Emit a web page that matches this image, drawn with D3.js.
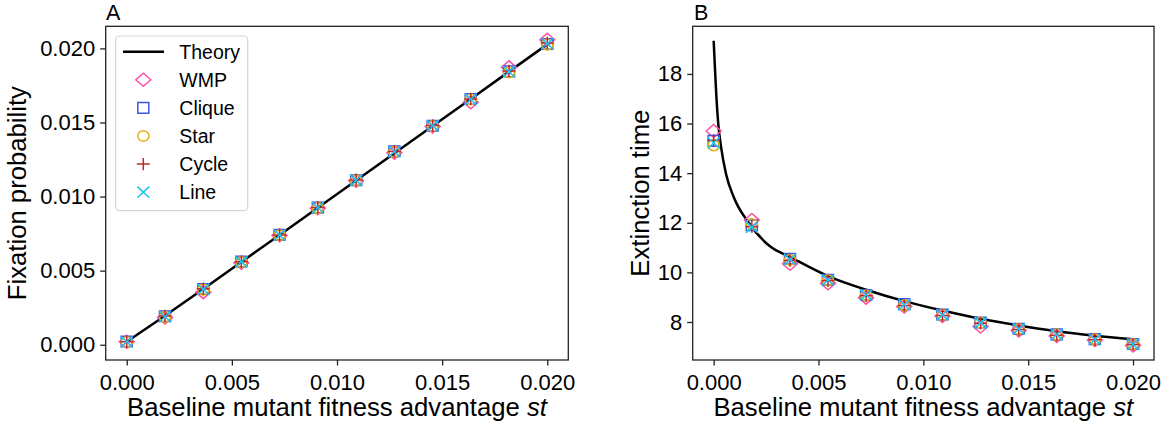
<!DOCTYPE html>
<html><head><meta charset="utf-8">
<script src="https://cdn.jsdelivr.net/npm/d3@7"></script>
<style>
html,body{margin:0;padding:0;background:#fff;}
svg{display:block;font-family:"Liberation Sans",Arial,sans-serif;}
</style></head>
<body>
<svg id="c" width="1172" height="427"></svg>
<script>
// ---- data ----
const st = [0, 0.00182, 0.00364, 0.00545, 0.00727, 0.00909, 0.01091, 0.01273, 0.01455, 0.01636, 0.01818, 0.02];
const xTicks = [0, 0.005, 0.01, 0.015, 0.02];
const fixTicks = [0, 0.005, 0.01, 0.015, 0.02];
const extTicks = [8, 10, 12, 14, 16, 18];
const seriesNames = ["WMP", "Clique", "Star", "Cycle", "Line"];

// Panel A: fixation probability
const fixTheory = [0.0002, 0.00196, 0.00376, 0.00558, 0.00741, 0.00924, 0.01108, 0.01292, 0.01476, 0.01659, 0.01843, 0.02027];
const fixWMP    = [0.0002, 0.00183, 0.00355, 0.00553, 0.00738, 0.00921, 0.01106, 0.01296, 0.01473, 0.01636, 0.01872, 0.02058];
const fixClique = [0.00022, 0.00192, 0.00376, 0.00562, 0.00742, 0.00925, 0.0111, 0.01306, 0.01478, 0.01658, 0.01845, 0.0203];
const fixStar   = [0.00018, 0.00188, 0.00372, 0.00558, 0.00739, 0.00922, 0.01108, 0.01302, 0.01476, 0.01655, 0.01838, 0.02025];
const fixCycle  = [0.0002, 0.00194, 0.00378, 0.0056, 0.00741, 0.00926, 0.01112, 0.01304, 0.01479, 0.01659, 0.01848, 0.02036];
const fixLine   = [0.0002, 0.0019, 0.00374, 0.0056, 0.0074, 0.00925, 0.0111, 0.01303, 0.01478, 0.01656, 0.01843, 0.02032];

// Panel B: extinction time
const extTheoryS = [0, 0.00005, 0.00013, 0.00022, 0.00035, 0.00059, 0.00095, 0.00167, 0.0027, 0.00362, 0.00545, 0.00727, 0.00909, 0.01091, 0.01273, 0.01455, 0.01636, 0.01818, 0.02];
const extTheoryT = [19.34, 18.43, 17.08, 15.98, 15.07, 13.97, 13.05, 12.0, 11.04, 10.63, 9.85, 9.3, 8.84, 8.46, 8.13, 7.86, 7.63, 7.45, 7.3];
const extWMP    = [15.70, 12.11, 10.35, 9.56, 8.98, 8.62, 8.24, 7.82, 7.66, 7.44, 7.27, 7.05];
const extClique = [15.30, 11.90, 10.55, 9.70, 9.09, 8.72, 8.30, 7.98, 7.73, 7.50, 7.31, 7.11];
const extStar   = [15.12, 11.95, 10.50, 9.68, 9.07, 8.67, 8.28, 7.97, 7.72, 7.49, 7.30, 7.10];
const extCycle  = [15.33, 11.85, 10.48, 9.66, 9.06, 8.66, 8.26, 7.95, 7.70, 7.47, 7.28, 7.09];
const extLine   = [15.22, 11.82, 10.52, 9.69, 9.09, 8.70, 8.29, 7.97, 7.72, 7.49, 7.30, 7.10];

// ---- styles ----
const colors = {WMP:"#ff4fa3", Clique:"#3d55e3", Star:"#e2b00c", Cycle:"#bb2a2a", Line:"#18c4f2"};
const markerPath = {
  WMP: "M-7.5,0L0,-6.5L7.5,0L0,6.5Z",
  Clique: "M-5.5,-5.3H5.5V5.3H-5.5Z",
  Star: "M5.6,0A5.6,5.3 0 1,1 -5.6,0A5.6,5.3 0 1,1 5.6,0Z",
  Cycle: "M-6.5,0H6.5M0,-6.2V6.2",
  Line: "M-6,-5.6L6,5.6M-6,5.6L6,-5.6"
};
const svg = d3.select("#c");
const FS_TICK = 22, FS_LAB = 25.7;

function panel(opts){
  const {left,right,top,bottom,xDom,yDom,yTicks,yFmt,ylab,ylabX,letter,letterX} = opts;
  const x = d3.scaleLinear().domain(xDom).range([left,right]);
  const y = d3.scaleLinear().domain(yDom).range([bottom,top]);
  const g = svg.append("g");
  const xa = g.append("g").attr("transform",`translate(0,${bottom})`)
    .call(d3.axisBottom(x).tickValues(xTicks).tickFormat(d3.format(".3f")).tickSizeOuter(0).tickSize(5.5).tickPadding(5));
  const ya = g.append("g").attr("transform",`translate(${left},0)`)
    .call(d3.axisLeft(y).tickValues(yTicks).tickFormat(yFmt).tickSizeOuter(0).tickSize(5.5).tickPadding(5));
  [xa,ya].forEach(a=>{
    a.select(".domain").remove();
    a.selectAll("line").attr("stroke","#222").attr("stroke-width",1.3);
    a.selectAll("text").attr("fill","#000").style("font-size",FS_TICK+"px").style("font-family",'"Liberation Sans",Arial,sans-serif');
  });
  xa.selectAll("text").attr("dy","0.9em");
  g.append("rect").attr("x",left).attr("y",top).attr("width",right-left).attr("height",bottom-top)
    .attr("fill","none").attr("stroke","#222").attr("stroke-width",1.3);
  const xl = g.append("text").attr("x",(left+right)/2).attr("y",416).attr("text-anchor","middle")
    .style("font-size",FS_LAB+"px");
  xl.append("tspan").text("Baseline mutant fitness advantage ");
  xl.append("tspan").style("font-style","italic").text("st");
  g.append("text").attr("transform",`translate(${ylabX},${(top+bottom)/2}) rotate(-90)`)
    .attr("text-anchor","middle").style("font-size",FS_LAB+"px").text(ylab);
  g.append("text").attr("x",letterX).attr("y",19.5).style("font-size","21.5px").text(letter);
  return {g,x,y};
}

function drawMarkers(p, xs, seriesList){
  seriesList.forEach(([name, vals])=>{
    p.g.append("g").selectAll("path").data(vals).join("path")
      .attr("transform",(d,i)=>`translate(${p.x(xs[i])},${p.y(d)})`)
      .attr("d",markerPath[name]).attr("fill","none")
      .attr("stroke",colors[name]).attr("stroke-width",1.5);
  });
}

// Panel A
const pA = panel({left:105.7,right:568.3,top:26.3,bottom:360,
  xDom:[-0.001,0.021], yDom:[-0.00103,0.02149], yTicks:fixTicks, yFmt:d3.format(".3f"),
  ylab:"Fixation probability", ylabX:25.5, letter:"A", letterX:106});
pA.g.append("path").datum(st.map((s,i)=>[s,fixTheory[i]]))
  .attr("d",d3.line().x(d=>pA.x(d[0])).y(d=>pA.y(d[1])))
  .attr("fill","none").attr("stroke","#000").attr("stroke-width",2.5);
drawMarkers(pA, st, [["WMP",fixWMP],["Clique",fixClique],["Star",fixStar],["Cycle",fixCycle],["Line",fixLine]]);

// Legend
const leg = pA.g.append("g");
leg.append("rect").attr("x",115.7).attr("y",36).attr("width",132).attr("height",174.7)
  .attr("rx",4).attr("fill","#fff").attr("fill-opacity",0.8).attr("stroke","#d6d6d6").attr("stroke-width",1.2);
const legRows = ["Theory"].concat(seriesNames);
legRows.forEach((name,i)=>{
  const cy = 51.7 + i*28.1;
  if(name==="Theory"){
    leg.append("line").attr("x1",123).attr("x2",164).attr("y1",cy).attr("y2",cy).attr("stroke","#000").attr("stroke-width",2.5);
  } else {
    leg.append("path").attr("transform",`translate(143.3,${cy})`).attr("d",markerPath[name])
      .attr("fill","none").attr("stroke",colors[name]).attr("stroke-width",1.5);
  }
  leg.append("text").attr("x",179.3).attr("y",cy).attr("dy","0.35em").style("font-size","19.5px").text(name);
});

// Panel B
const pB = panel({left:692.7,right:1154,top:26.3,bottom:360,
  xDom:[-0.001,0.021], yDom:[6.468,19.92], yTicks:extTicks, yFmt:d3.format("d"),
  ylab:"Extinction time", ylabX:648.5, letter:"B", letterX:694});
pB.g.append("path").datum(extTheoryS.map((s,i)=>[s,extTheoryT[i]]))
  .attr("d",d3.line().curve(d3.curveMonotoneX).x(d=>pB.x(d[0])).y(d=>pB.y(d[1])))
  .attr("fill","none").attr("stroke","#000").attr("stroke-width",2.5);
drawMarkers(pB, st, [["WMP",extWMP],["Clique",extClique],["Star",extStar],["Cycle",extCycle],["Line",extLine]]);
</script>
</body></html>
